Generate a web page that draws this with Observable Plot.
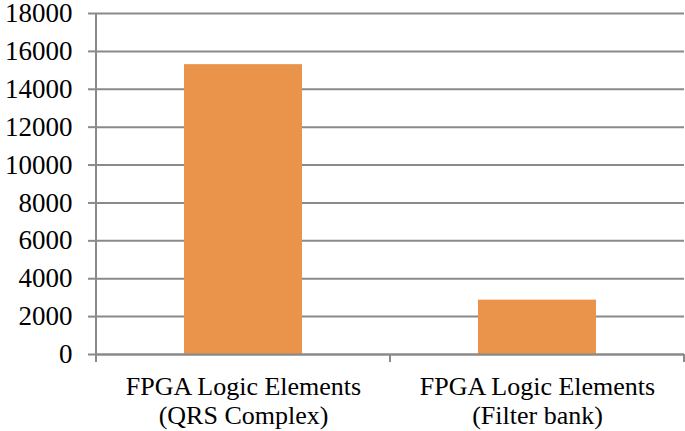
<!DOCTYPE html>
<html><head><meta charset="utf-8">
<script src="https://cdn.jsdelivr.net/npm/d3@7"></script>
<script src="https://cdn.jsdelivr.net/npm/@observablehq/plot@0.6"></script>
<style>body{margin:0;background:#fff}</style>
</head><body><div id="chart"></div>
<script>
const categories = ["FPGA Logic Elements\n(QRS Complex)", "FPGA Logic Elements\n(Filter bank)"];
const values = [15300, 2870];
const yTicks = [0, 2000, 4000, 6000, 8000, 10000, 12000, 14000, 16000, 18000];

const data = categories.map((c, i) => ({category: c, value: values[i]}));
const gridColor = "#8a8a8a";
const barColor = "#E9934B";
const serif = "'Liberation Serif', 'Times New Roman', serif";

const plot = Plot.plot({
  width: 685, height: 431,
  marginLeft: 96, marginRight: 1, marginTop: 13, marginBottom: 77,
  style: {fontFamily: serif, fontSize: "26px", color: "#000", background: "#fff"},
  x: {domain: categories, paddingInner: 0.6, paddingOuter: 0.3, label: null},
  y: {domain: [0, 18000], label: null},
  marks: [
    Plot.gridY(yTicks, {stroke: gridColor, strokeOpacity: 1, strokeWidth: 2}),
    Plot.axisY(yTicks, {tickSize: 8, tickPadding: 16, stroke: gridColor, strokeWidth: 2, strokeOpacity: 1, label: null, tickFormat: d => String(d), fill: "#000", fontSize: 27, fontFamily: serif}),
    Plot.barY(data, {x: "category", y: "value", fill: barColor}),
    Plot.ruleY([0], {stroke: gridColor, strokeWidth: 2}),
    Plot.axisX({tickSize: 0, tickPadding: 21, lineHeight: 1.08, label: null, fill: "#000", fontSize: 26, fontFamily: serif})
  ]
});

// category boundary ticks and the vertical axis line, from the library's scales
const xs = plot.scale("x");
const ys = plot.scale("y");
const half = (xs.step - xs.bandwidth) / 2;
const bounds = categories.map(c => xs.apply(c) - half);
bounds.push(xs.apply(categories[categories.length - 1]) + xs.bandwidth + half);
const y0 = ys.apply(0), yTop = ys.apply(18000);
const svg = d3.select(plot);
const g = svg.append("g").attr("stroke", gridColor).attr("stroke-width", 2);
bounds.forEach((b, i) => {
  g.append("line").attr("x1", b).attr("x2", b)
    .attr("y1", i === 0 ? yTop : y0).attr("y2", y0 + 8);
});
document.getElementById("chart").appendChild(plot);
</script>
</body></html>
